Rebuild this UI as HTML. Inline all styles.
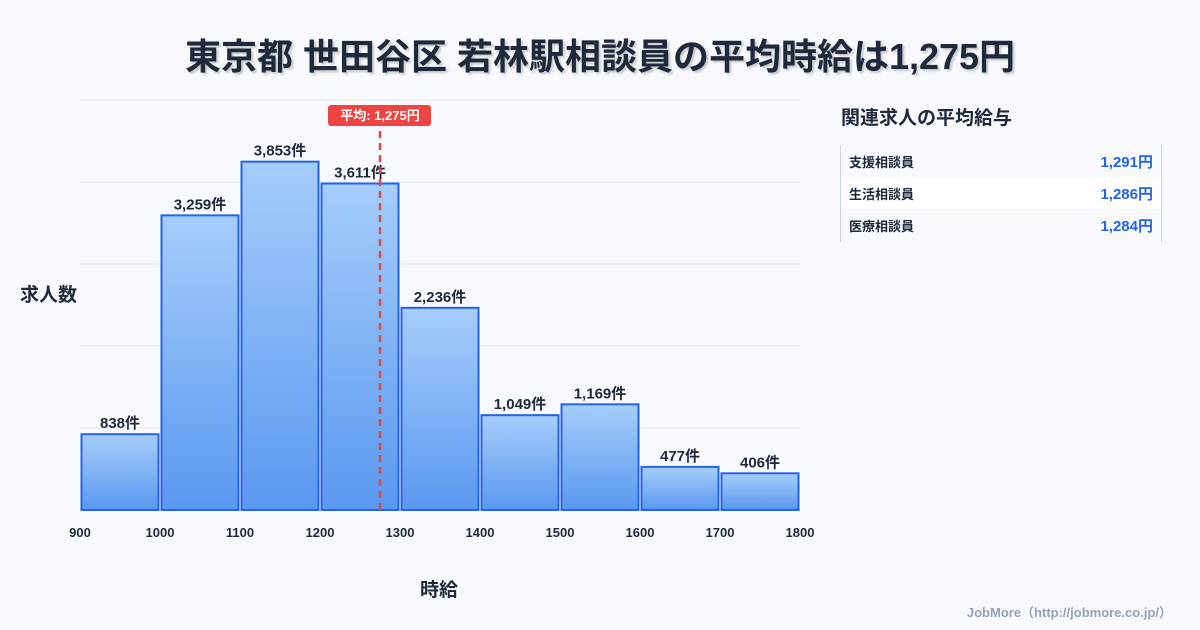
<!DOCTYPE html>
<html><head><meta charset="utf-8"><style>
body{margin:0;background:#f8f9fc;font-family:"Liberation Sans","Noto Sans CJK JP",sans-serif;}
#wrap{position:relative;width:1200px;height:630px;overflow:hidden;}
.t{position:absolute;}
</style></head><body>
<div id="wrap">
<div class="t" style="left:0;width:1200px;top:28px;text-align:center;font-size:36px;font-weight:bold;color:#1e293b;text-shadow:2px 2px 2px rgba(0,0,0,0.2);">東京都 世田谷区 若林駅相談員の平均時給は1,275円</div>
<svg id="chart" width="1200" height="630" style="position:absolute;left:0;top:0">
<defs><linearGradient id="g" x1="0" y1="0" x2="0" y2="1"><stop offset="0" stop-color="#a6cdfb"/><stop offset="1" stop-color="#5a98ef"/></linearGradient></defs>
</svg>
<div class="t" style="left:20px;top:280px;font-size:19px;font-weight:bold;color:#1e293b;">求人数</div>
<div class="t" style="left:420px;top:575px;font-size:19px;font-weight:bold;color:#1e293b;">時給</div>
<div class="t" style="left:841px;top:103px;font-size:19px;font-weight:bold;color:#1e293b;">関連求人の平均給与</div>
<div class="t" style="left:840px;top:145px;width:320px;height:97px;border-left:1px solid #cbd5e1;border-right:1px solid #cbd5e1;">
 <div style="height:32px;display:flex;justify-content:space-between;align-items:center;padding:0 8px;font-size:13px;font-weight:bold;color:#1e293b;"><span>支援相談員</span><span style="color:#2563eb;font-size:15px">1,291円</span></div>
 <div style="height:32px;background:#fff;display:flex;justify-content:space-between;align-items:center;padding:0 8px;font-size:13px;font-weight:bold;color:#1e293b;"><span>生活相談員</span><span style="color:#2563eb;font-size:15px">1,286円</span></div>
 <div style="height:32px;display:flex;justify-content:space-between;align-items:center;padding:0 8px;font-size:13px;font-weight:bold;color:#1e293b;"><span>医療相談員</span><span style="color:#2563eb;font-size:15px">1,284円</span></div>
</div>
<div class="t" style="right:28px;top:602px;font-size:13px;font-weight:bold;color:#94a3b8;">JobMore（http://jobmore.co.jp/）</div>
</div>
<script>
const binStarts=[900,1000,1100,1200,1300,1400,1500,1600,1700];
const counts=[838,3259,3853,3611,2236,1049,1169,477,406];
const xTicks=[900,1000,1100,1200,1300,1400,1500,1600,1700,1800];
const meanValue=1275;
const yMax=4535, xMin=900, xMax=1800;
const L=80,R=800,T=100,B=510;
const xs=v=>L+(v-xMin)/(xMax-xMin)*(R-L);
const ys=v=>B-v/yMax*(B-T);
const svg=document.getElementById('chart');
const NS='http://www.w3.org/2000/svg';
function mk(tag,a){const e=document.createElementNS(NS,tag);for(const k in a)e.setAttribute(k,a[k]);svg.appendChild(e);return e;}
for(let i=0;i<=5;i++){const y=T+i*(B-T)/5;
 const g=mk('line',{x1:L,x2:R,y1:y,y2:y,stroke:'#e2e8f0','stroke-width':1});
 
 }
binStarts.forEach((s,i)=>{
 const x0=xs(s)+1.5,x1=xs(s+100)-1.5,y=ys(counts[i]);
 const r=mk('rect',{x:x0,y:y,width:x1-x0,height:B-y,fill:'url(#g)',stroke:'#2563eb','stroke-width':2});
 
 
 const t=mk('text',{x:(x0+x1)/2,y:y-6,'text-anchor':'middle','font-size':15,'font-weight':'bold',fill:'#1e293b'});
 t.textContent=counts[i].toLocaleString('en-US')+'件';
 
 
});
xTicks.forEach(v=>{const t=mk('text',{x:xs(v),y:537,'text-anchor':'middle','font-size':13,'font-weight':'bold',fill:'#1e293b'});
 t.textContent=v;
 
 });
const mx=xs(meanValue);
const ml=mk('line',{x1:mx,x2:mx,y1:131,y2:B,stroke:'#e04848','stroke-width':2.5,'stroke-dasharray':'7,5'});


const mb=mk('rect',{x:mx-52,y:105,width:103,height:21,rx:3,fill:'#ef4444'});


const mt=mk('text',{x:mx,y:120,'text-anchor':'middle','font-size':13,'font-weight':'bold',fill:'#fff'});
mt.textContent='平均: '+meanValue.toLocaleString('en-US')+'円';


</script>
</body></html>
